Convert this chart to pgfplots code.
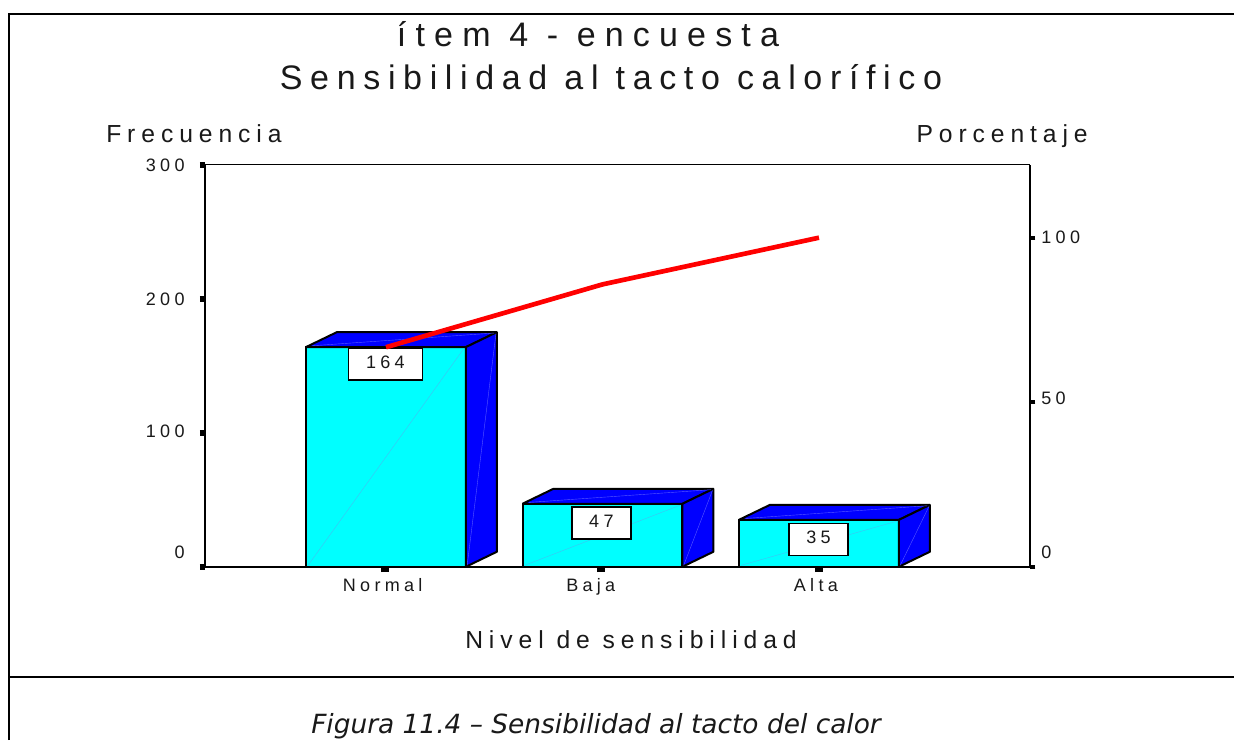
\documentclass[border=0pt]{standalone}
\usepackage{fontspec}
\setmainfont{Liberation Sans}
\newfontfamily\chartfont[LetterSpace=24]{Liberation Sans}
\newfontfamily\titlefont[LetterSpace=27]{Liberation Sans}
\newfontfamily\titlefontb[LetterSpace=22.5]{Liberation Sans}
\newfontfamily\capfont{DejaVu Sans}
\usepackage{pgfplots}
\pgfplotsset{compat=1.18}
\definecolor{barfront}{RGB}{0,255,255}
\definecolor{barside}{RGB}{0,0,255}
\definecolor{inktext}{RGB}{25,25,25}

% 1 px of the reference = 0.75pt here
\pgfplotsset{
  base/.style={
    scale only axis,
    width=618.5pt,
    height=301.3pt,
    at={(153.98pt,129.98pt)},
    anchor=south west,
    xmin=-0.8346, xmax=2.9746,
    major tick length=4pt,
    clip=false,
    /pgf/number format/assume math mode=true,
    ticklabel style={font=\fontsize{13.5}{15}\chartfont, text=inktext},
  },
  face/.style={fill=barside, draw=black, line width=1.5pt, line join=bevel},
}
\newcommand{\valbox}[4]{% x, h, box width, text
  \node[draw=black, line width=1.2pt, fill=white, minimum width=#3, minimum height=24pt,
        inner sep=0pt, anchor=north] at (axis cs:#1,#2) {};
  \node[font=\fontsize{13.5}{15}\chartfont, text=inktext, anchor=base] at ([yshift=-16pt]axis cs:#1,#2) {#4};
}

\begin{document}
\begin{tikzpicture}[x=0.75pt,y=0.75pt]
\useasboundingbox (0,0) rectangle (1234,740);
\fill[white] (0,0) rectangle (1234,740);
% outer frame
\draw[line width=1.5pt,black] (9,0) -- (9,726) -- (1234,726);
\draw[line width=1.5pt,black] (9,63) -- (1234,63);

\begin{axis}[base,
  ymin=0, ymax=300,
  axis x line=bottom, axis y line=left,
  tick align=outside,
  x axis line style={-,line width=1.5pt},
  y axis line style={-,line width=1.5pt},
  xtick={-0.003,0.995,1.998},
  xticklabels={\kern-4pt Normal,\kern-16pt Baja,\kern-4pt Alta},
  x tick style={line width=6pt,black},
  xticklabel style={yshift=-1pt},
  ytick={0,100,200,300},
  yticklabels={\raisebox{21pt}{0},\raisebox{3pt}{100},200,300},
  y tick style={line width=4.5pt,black},
  yticklabel style={xshift=-8pt},
]
% front faces
\addplot[ybar, bar width=0.739, fill=barfront, draw=black, line width=1.5pt]
  coordinates {(0,164) (1,47) (2,35)};
% top and side faces
\addplot[face] coordinates {(-0.3695,164) (-0.2263,175.2) (0.5127,175.2) (0.3695,164)} -- cycle;
\addplot[face] coordinates {(0.3695,0) (0.5127,11.2) (0.5127,175.2) (0.3695,164)} -- cycle;
\addplot[face] coordinates {(0.6305,47) (0.7737,58.2) (1.5127,58.2) (1.3695,47)} -- cycle;
\addplot[face] coordinates {(1.3695,0) (1.5127,11.2) (1.5127,58.2) (1.3695,47)} -- cycle;
\addplot[face] coordinates {(1.6305,35) (1.7737,46.2) (2.5127,46.2) (2.3695,35)} -- cycle;
\addplot[face] coordinates {(2.3695,0) (2.5127,11.2) (2.5127,46.2) (2.3695,35)} -- cycle;
% faint facet seams
\addplot[cyan!75!white, line width=0.3pt] coordinates {(-0.36,1) (0.36,163)};
\addplot[cyan!75!white, line width=0.3pt] coordinates {(0.64,1) (1.36,46)};
\addplot[cyan!75!white, line width=0.3pt] coordinates {(1.64,1) (2.36,34)};
\addplot[blue!65!white, line width=0.3pt] coordinates {(0.375,1) (0.508,174)};
\addplot[blue!65!white, line width=0.3pt] coordinates {(1.375,1) (1.508,57)};
\addplot[blue!65!white, line width=0.3pt] coordinates {(2.375,1) (2.508,45)};
\addplot[blue!65!white, line width=0.3pt] coordinates {(-0.34,165) (0.5,174.5)};
\addplot[blue!65!white, line width=0.3pt] coordinates {(0.66,48) (1.5,57.5)};
\addplot[blue!65!white, line width=0.3pt] coordinates {(1.66,36) (2.5,45.5)};
% value boxes
\valbox{-0.003}{164}{55.5pt}{164}
\valbox{0.995}{45}{44pt}{47}
\valbox{1.998}{33}{44pt}{35}
\end{axis}

\begin{axis}[base,
  ymin=0, ymax=122.1,
  axis x line=top, axis y line=right,
  tick align=outside,
  x axis line style={-,line width=0.8pt},
  y axis line style={-,line width=1.5pt},
  xtick=\empty,
  ytick={0,50,100},
  yticklabels={\raisebox{21pt}{0},\raisebox{6pt}{50},\raisebox{0.8pt}{100}},
  y tick style={line width=3pt,black},
  yticklabel style={xshift=1pt},
]
\addplot[red, line width=3.5pt] coordinates {(0,66.7) (1,85.8) (2,100)};
\end{axis}

% titles and axis captions
\node[anchor=base,font=\fontsize{25.5}{28}\titlefont,text=inktext] at (588,740-47) {ítem 4 - encuesta};
\node[anchor=base,font=\fontsize{25.5}{28}\titlefontb,text=inktext] at (611,740-90) {Sensibilidad al tacto calorífico};
\node[anchor=base west,inner sep=0pt,font=\fontsize{18.5}{20}\chartfont,text=inktext] at (106,740-143) {Frecuencia};
\node[anchor=base east,inner sep=0pt,font=\fontsize{18.5}{20}\chartfont,text=inktext] at (1088,740-143) {Porcentaje};
\node[anchor=base,font=\fontsize{18.5}{20}\chartfont,text=inktext] at (631,740-648) {Nivel de sensibilidad};
\node[anchor=base,font=\fontsize{19.8}{22}\capfont\itshape,text=inktext] at (596,740-733.5) {Figura 11.4 – Sensibilidad al tacto del calor};
\end{tikzpicture}
\end{document}
